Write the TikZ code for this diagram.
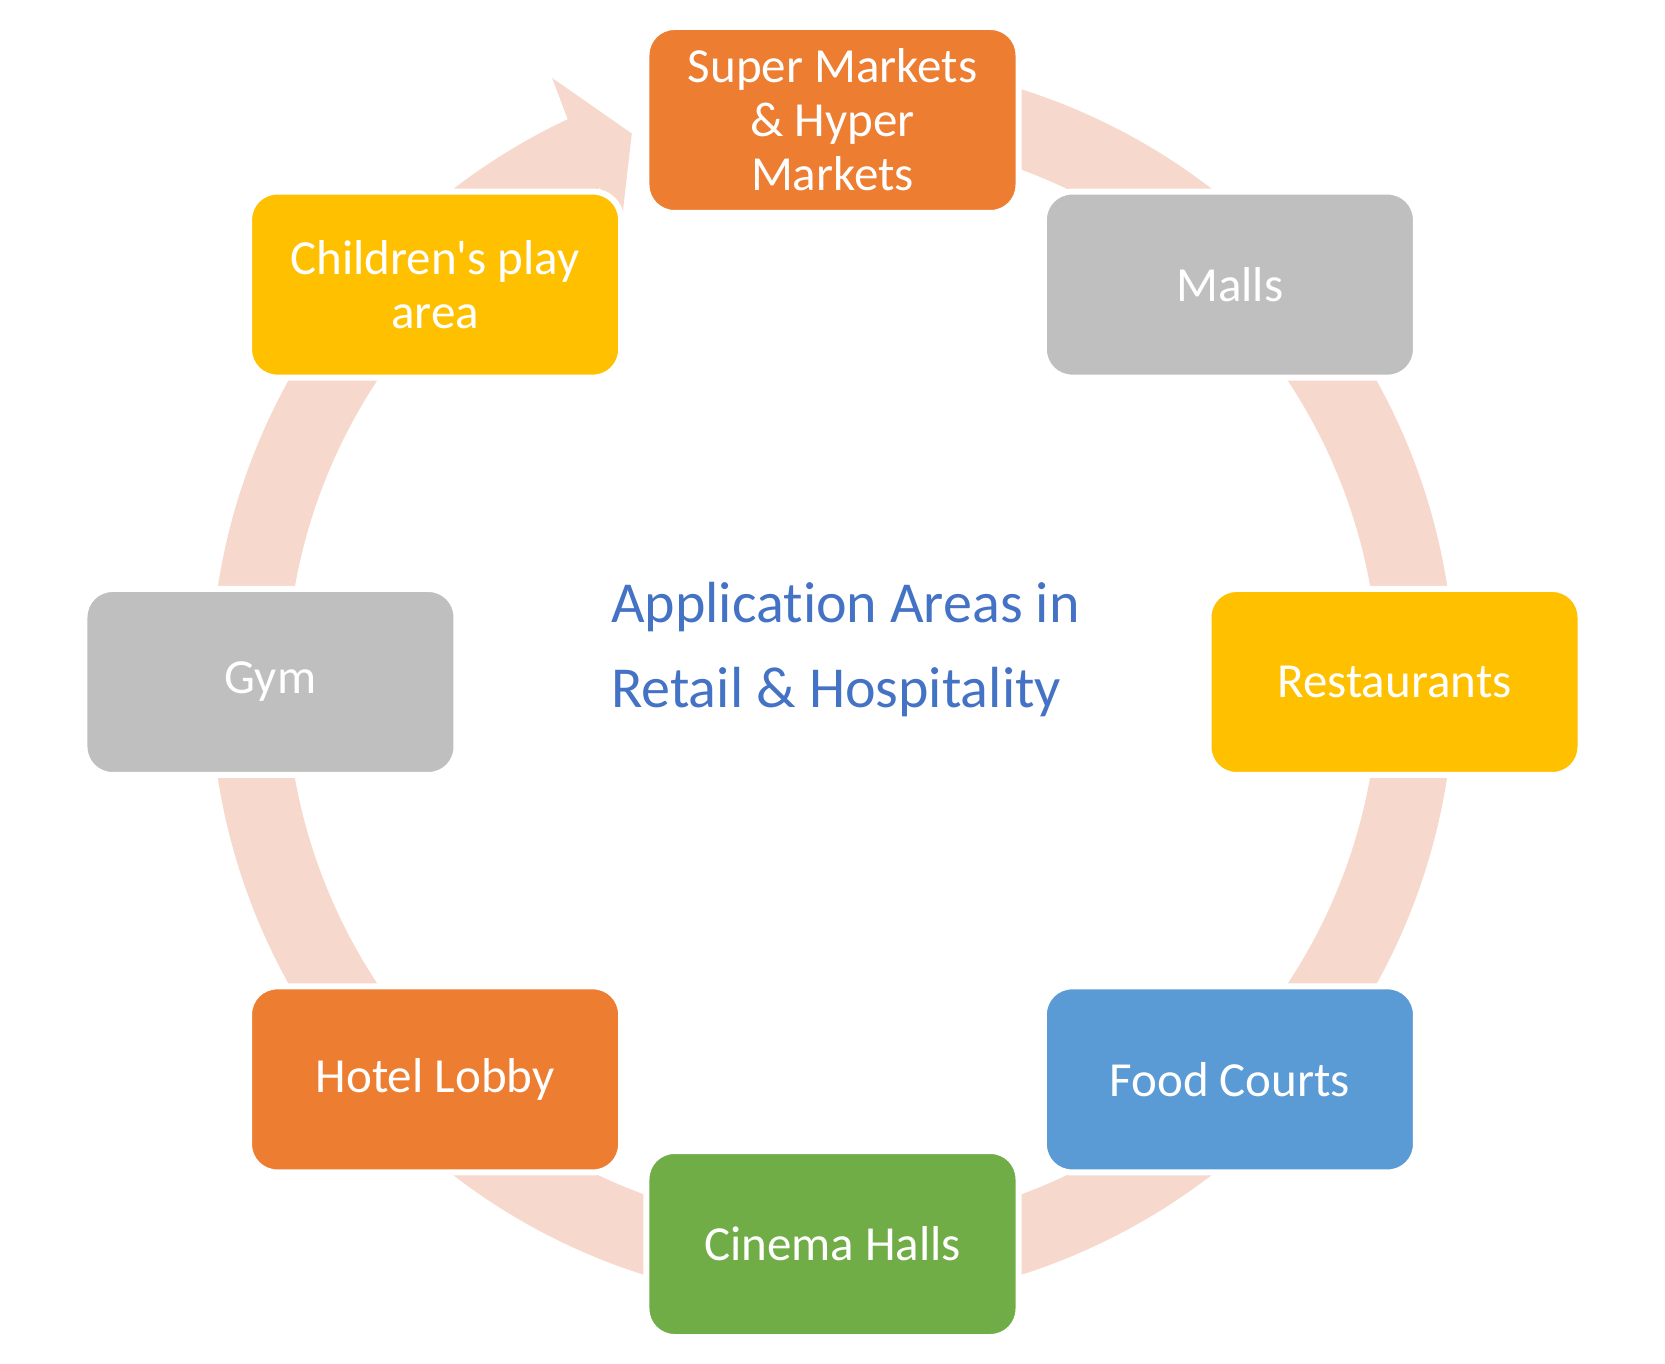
\documentclass[tikz,border=0pt]{standalone}
\usepackage{fontspec}
\setmainfont{Carlito}[Ligatures={NoCommon}]
\usepackage{tikz}
\usetikzlibrary{positioning}

\definecolor{ringpink}{HTML}{F7D8CD}
\definecolor{boxorange}{HTML}{ED7D31}
\definecolor{boxgrey}{HTML}{BFBFBF}
\definecolor{boxyellow}{HTML}{FFC000}
\definecolor{boxblue}{HTML}{5B9BD5}
\definecolor{boxgreen}{HTML}{70AD47}
\definecolor{titleblue}{HTML}{4472C4}

\begin{document}
\begin{tikzpicture}[
  x=0.5pt, y=0.5pt,
  every node/.style={align=center},
  areabox/.style={rectangle, rounded corners=14pt, draw=white, line width=3pt, minimum width=186pt, minimum height=93pt, text=white, font=\fontsize{24.5}{27}\selectfont},
  title/.style={align=left, text=titleblue, font=\fontsize{29}{42.5}\selectfont}
]
\useasboundingbox (-832.5,-682) rectangle (832.5,682);

% Cycle arrow behind the boxes
\fill[ringpink] (80:311pt) arc[start angle=80, end angle=-244.8, radius=311pt]
  -- (-245.1:333pt) -- (-249.9:292pt) -- (-245.1:251pt) -- (-244.8:273pt)
  arc[start angle=-244.8, end angle=80, radius=273pt] -- cycle;

% Centre title
\node[title] (title) at (13,32) {Application Areas in\\Retail \& Hospitality};

% Application areas round the circle
\node[areabox, fill=boxorange] (super) at (90:562) {Super Markets\\\& Hyper\\Markets};
\node[areabox, fill=boxgrey] (malls) at (45:562) {Malls};
\node[areabox, fill=boxyellow] (restaurants) at (0:562) {Restaurants};
\node[areabox, fill=boxblue] (food) at (-45:562) {Food Courts};
\node[areabox, fill=boxgreen] (cinema) at (-90:562) {Cinema Halls};
\node[areabox, fill=boxorange] (hotel) at (-135:562) {Hotel Lobby};
\node[areabox, fill=boxgrey] (gym) at (180:562) {Gym};
\node[areabox, fill=boxyellow] (children) at (135:562) {Children\textquotesingle s play\\area};

\end{tikzpicture}
\end{document}
